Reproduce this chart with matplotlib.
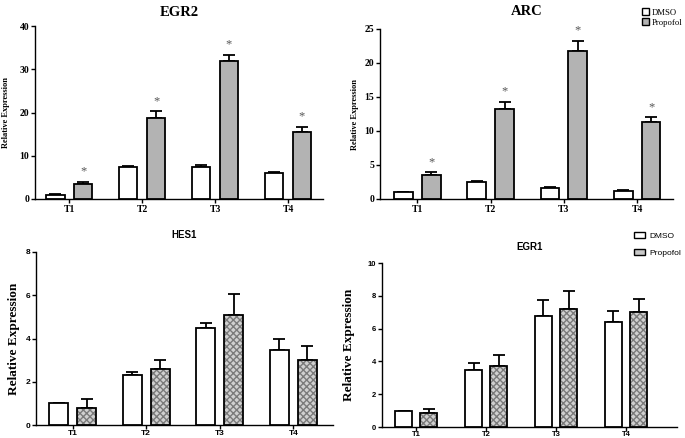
import matplotlib
matplotlib.use("Agg")
import matplotlib.pyplot as plt
import numpy as np
from matplotlib.patches import Patch

categories = ["T1", "T2", "T3", "T4"]

egr2_dmso = [1.0, 7.3, 7.4, 6.0]
egr2_dmso_err = [0.1, 0.3, 0.5, 0.2]
egr2_prop = [3.5, 18.7, 31.8, 15.5]
egr2_prop_err = [0.4, 1.6, 1.5, 1.2]

arc_dmso = [1.0, 2.5, 1.55, 1.2]
arc_dmso_err = [0.05, 0.12, 0.15, 0.1]
arc_prop = [3.55, 13.3, 21.7, 11.3]
arc_prop_err = [0.35, 1.0, 1.6, 0.7]

hes1_dmso = [1.0, 2.32, 4.47, 3.47]
hes1_dmso_err = [0.0, 0.15, 0.23, 0.5]
hes1_prop = [0.78, 2.58, 5.07, 3.0]
hes1_prop_err = [0.43, 0.43, 1.0, 0.66]

egr1_dmso = [1.0, 3.47, 6.78, 6.41]
egr1_dmso_err = [0.0, 0.45, 0.98, 0.69]
egr1_prop = [0.88, 3.71, 7.2, 7.0]
egr1_prop_err = [0.22, 0.68, 1.11, 0.8]

W, H = 685, 438
fig = plt.figure(figsize=(W / 100, H / 100), dpi=100)

serif = "Liberation Serif"
sans = "Liberation Sans"


def make_axes(px_left, px_right, px_top, px_bottom):
    return fig.add_axes([px_left / W, 1 - px_bottom / H,
                         (px_right - px_left) / W, (px_bottom - px_top) / H])


def draw(ax, dmso, dmso_err, prop, prop_err, ymax, ystep, xlim, width, off,
         style, title, stars, ylabel_size, tick_font, tick_size, title_font,
         title_size, ypad_title, labelpad, xpad):
    x = np.arange(len(categories))
    ax.bar(x - off, dmso, width, color="white", edgecolor="black", linewidth=1.3, zorder=3)
    ax.errorbar(x - off, dmso, yerr=[np.zeros(4), dmso_err], fmt="none", ecolor="black",
                elinewidth=1.3, capsize=4, capthick=1.3, zorder=2)
    if style == "solid":
        ax.bar(x + off, prop, width, color="#b3b3b3", edgecolor="black", linewidth=1.3, zorder=3)
    else:
        ax.bar(x + off, prop, width, color="#d0d0d0", edgecolor="#7a7a7a", linewidth=0,
               hatch="xxxxx", zorder=3)
        ax.bar(x + off, prop, width, color="none", edgecolor="black", linewidth=1.3, zorder=4)
    ax.errorbar(x + off, prop, yerr=[np.zeros(4), prop_err], fmt="none", ecolor="black",
                elinewidth=1.3, capsize=4, capthick=1.3, zorder=2)
    if stars:
        for xi, v, e in zip(x, prop, prop_err):
            ax.text(xi + off, v + e + ymax * 0.025, "*", ha="center", va="bottom",
                    fontsize=9, color="#555555", family=serif)
    ax.set_xlim(*xlim)
    ax.set_ylim(0, ymax)
    ticks = np.arange(0, ymax + 0.01, ystep)
    ax.set_yticks(ticks)
    ax.set_yticklabels([f"{int(t)}" for t in ticks],
                       family=tick_font, fontsize=tick_size, fontweight="bold")
    ax.set_xticks(x)
    ax.set_xticklabels(categories, family=tick_font, fontsize=tick_size, fontweight="bold")
    for s in ["top", "right"]:
        ax.spines[s].set_visible(False)
    for s in ["left", "bottom"]:
        ax.spines[s].set_linewidth(1.0)
    ax.tick_params(axis="y", length=3, width=1, pad=1)
    ax.tick_params(axis="x", length=3, width=1, pad=xpad)
    ax.set_ylabel("Relative Expression", family=serif, fontsize=ylabel_size,
                  fontweight="bold", labelpad=labelpad)
    ax.set_title(title, family=title_font, fontsize=title_size, fontweight="bold",
                 pad=ypad_title)


ax1 = make_axes(35, 323, 26, 199)
draw(ax1, egr2_dmso, egr2_dmso_err, egr2_prop, egr2_prop_err, 40, 10, (-0.47, 3.48), 0.25, 0.19,
     "solid", "EGR2", True, 6, serif, 7, serif, 10.5, 7, 7, 1)

ax2 = make_axes(380, 673, 29, 199)
draw(ax2, arc_dmso, arc_dmso_err, arc_prop, arc_prop_err, 25, 5, (-0.51, 3.49), 0.255, 0.19,
     "solid", "ARC", True, 6, serif, 7, serif, 10.5, 10, 4, 1)

ax3 = make_axes(36, 333, 252, 425)
draw(ax3, hes1_dmso, hes1_dmso_err, hes1_prop, hes1_prop_err, 8, 2, (-0.50, 3.54), 0.255, 0.19,
     "hatch", "HES1", False, 9.5, sans, 6, sans, 7, 10, 4, 0.5)

ax4 = make_axes(382, 677, 263, 427)
draw(ax4, egr1_dmso, egr1_dmso_err, egr1_prop, egr1_prop_err, 10, 2, (-0.49, 3.73), 0.24, 0.18,
     "hatch", "EGR1", False, 9.5, sans, 5.5, sans, 7, 9, 9, 0)

leg_top = [Patch(facecolor="white", edgecolor="black", linewidth=1, label="DMSO"),
           Patch(facecolor="#b3b3b3", edgecolor="black", linewidth=1, label="Propofol")]
fig.legend(handles=leg_top, loc="upper left", bbox_to_anchor=(636 / W, 1 - 2 / H),
           frameon=False, prop={"family": serif, "size": 6.2}, handlelength=0.8,
           handleheight=0.9, handletextpad=0.35, labelspacing=0.2, borderpad=0.2)

leg_bot = [Patch(facecolor="white", edgecolor="black", linewidth=1, label="DMSO"),
           Patch(facecolor="#c8c8c8", edgecolor="black", linewidth=1, label="Propofol")]
fig.legend(handles=leg_bot, loc="upper left", bbox_to_anchor=(628 / W, 1 - 226 / H),
           frameon=False, prop={"family": sans, "size": 6}, handlelength=1.3,
           handleheight=0.7, handletextpad=0.6, labelspacing=1.1, borderpad=0.2)

fig.savefig("out.png", dpi=100)
